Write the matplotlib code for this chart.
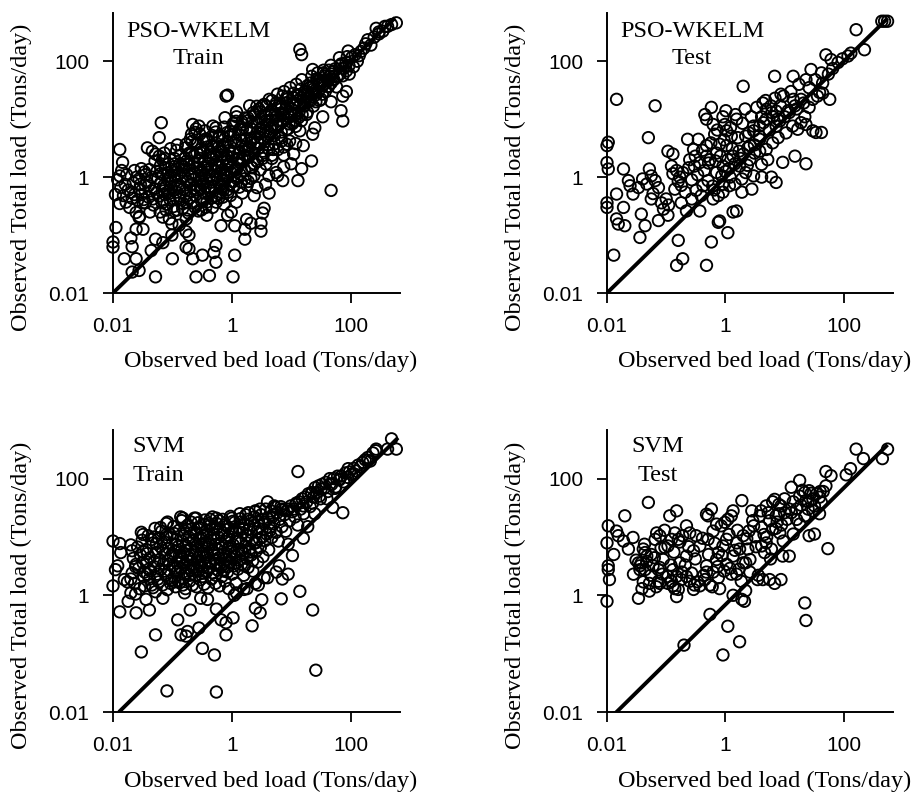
import matplotlib
matplotlib.use("Agg")
import matplotlib.pyplot as plt

# ---------------- data (Tons/day): (observed bed load, observed total load) ----------------
pso_train = [
(590,460),(490,430),(420,400),(270,370),(195,235),(130,100),(91,150),(65,115),(85,68),(112,80),
(74,56),(50,48),(42,37),(85,30),(74,25),(69,14),(74,9.3),(47,0.59),(47,20),(32,22),(26,32),(23,72),
(28,63),(14,160),(15,130),(35,63),(34,11),(25,7.1),(23,5.5),(22,1.9),(16,3.5),(15,1.4),(13,0.87),
(7.2,0.87),(5.6,1.2),(10,1.7),(11,2.5),(14,6.3),(7.2,25),(11,19),(6.9,17),(5.6,19),(3.3,17),(2.0,17),
(1.2,11),(0.8,25),(0.85,26),(0.22,8.1),(0.25,6.8),(0.28,7.6),(0.48,7.6),(0.54,7.1),(0.065,8.7),
(0.06,4.8),(0.038,3.2),(0.046,2.8),(0.052,2.5),(0.06,2.3),(0.068,2.0),(0.17,3.7),(0.21,5.5),(0.24,5.9),
(0.29,5.5),(0.37,4.6),(0.11,1.7),(0.013,3.0),(0.0145,1.8),(0.013,1.05),(0.0135,0.66),(0.013,0.35),
(0.0166,0.37),(0.02,0.55),(0.021,0.43),(0.023,1.3),(0.0275,0.93),(0.034,1.23),(0.035,0.72),(0.0245,0.245),
(0.0275,0.2),(0.032,0.126),(0.0112,0.135),(0.01,0.076),(0.01,0.062),(0.02,0.089),(0.021,0.063),
(0.0245,0.126),(0.0155,0.039),(0.0245,0.039),(0.021,0.023),(0.0275,0.0245),(0.052,0.019),(0.044,0.054),
(0.052,0.085),(0.069,0.074),(0.10,0.039),(0.17,0.062),(0.19,0.058),(0.22,0.039),(0.25,0.019),(0.32,0.045),
(0.42,0.02),(0.50,0.05),(0.54,0.066),(0.54,0.034),(1.05,0.019),(1.12,0.045),(0.66,0.145),(1.12,0.145),
(1.66,0.085),(1.66,0.126),(1.78,0.186),(2.1,0.16),(3.1,0.16),(3.1,0.117),(3.3,0.24),(3.5,0.29),(0.98,0.25),
(0.85,0.22),(0.38,0.22),(0.17,0.115),(0.19,0.10),(0.13,0.148),(0.098,0.10),(0.098,0.158),(0.062,0.25),
(0.069,0.204),(0.089,0.19),(0.107,0.26),(0.047,0.42),(0.054,0.54),(0.069,0.40),(0.083,0.55),(0.042,0.25),
(0.035,0.36),(0.032,0.36),(0.028,0.21),
(0.081,0.34),(0.077,0.66),(0.084,1.19),(0.074,2.1),(0.104,0.42),(0.096,0.83),(0.109,1.52),(0.093,1.04),
(0.121,0.27),(0.131,0.47),(0.119,1.08),(0.135,1.71),(0.118,2.9),(0.152,0.35),(0.167,0.59),(0.149,1.33),
(0.163,2.12),(0.171,0.19),(0.194,0.43),(0.207,0.75),(0.191,1.66),(0.214,2.6),(0.186,0.24),(0.241,0.3),
(0.262,0.6),(0.237,1.19),(0.268,1.9),(0.244,3.7),(0.305,0.27),(0.336,0.42),(0.31,0.94),(0.339,1.49),
(0.298,2.65),(0.344,4.3),(0.381,0.37),(0.423,0.67),(0.388,1.34),(0.427,2.1),(0.379,4.2),(0.474,0.3),
(0.532,0.47),(0.468,1.06),(0.527,1.69),(0.483,3.4),(0.538,6.0),(0.6,0.43),(0.667,0.74),(0.597,1.49),
(0.664,2.37),(0.612,4.8),(0.74,0.34),(0.835,0.6),(0.755,1.19),(0.846,1.88),(0.762,3.7),(0.844,5.9),
(0.77,10.6),(0.95,0.48),(1.06,0.84),(0.94,1.68),(1.07,2.65),(0.96,5.3),(1.06,8.4),(1.19,0.37),(1.34,0.67),
(1.2,1.34),(1.33,2.11),(1.19,4.25),(1.35,6.7),(1.2,13.4),(1.5,0.53),(1.68,0.94),(1.49,2.12),(1.69,3.3),
(1.51,6.7),(1.67,10.5),(1.89,0.84),(2.12,1.49),(1.88,2.98),(2.13,4.7),(1.9,9.5),(2.36,1.06),(2.66,1.88),
(2.37,3.7),(2.67,5.9),(2.38,11.9),(2.64,16.7),(3.02,1.34),(3.38,2.37),(3.01,4.8),(3.4,7.4),(3.05,13.4),
(3.77,1.68),(4.25,3.0),(3.76,5.95),(4.24,9.4),(3.8,16.8),(4.72,2.38),(5.3,3.77),(4.7,7.5),(5.3,11.9),
(4.75,21),(5.95,2.98),(6.7,4.7),(5.93,9.5),(6.7,14.9),(7.45,3.3),(8.4,6.7),(7.4,11.9),(8.4,18.8),(9.4,4.2),
(10.6,8.4),(9.4,13.3),(10.6,23.7),(11.9,7.5),(13.3,10.6),(11.8,18.8),(13.4,26.5),(14.9,9.4),(16.7,16.8),
(14.8,23.6),(18.8,13.3),(21.2,21),(18.7,30),(21.2,42),(23.6,16.8),(26.5,26.5),(23.5,37.5),(30,21),
(33.5,37.5),(30,47),(37.5,30),(42.3,47.5),(37.4,59),(47,42),(53,67),(59,53),(67,84),(75,75),(84,95),
(94,84),(106,118),(150,148),(168,168),(300,296),(380,400),
(2.1,0.95),(2.65,0.66),(4.2,1.06),(4.75,2.1),(7.5,2.4),(8.4,3.7),(7.5,1.5),(11.9,3.8),(5.9,1.06),
(4.25,0.53),(2.38,0.48),(3.7,0.75),(0.03,0.5),(0.04,0.71),(0.045,1.0),(0.05,0.63),(0.055,1.26),(0.063,0.79),
(0.035,1.1),(0.028,0.63),(0.04,0.45),(0.063,1.58),(0.07,1.1),(0.075,0.5),(0.2,4.5),(0.3,3.0),(0.35,6.3),
(0.45,3.5),(0.6,2.8),(0.7,5.0),(1.05,7.6),(1.5,9.0),
(0.033,0.41),(0.037,0.82),(0.041,1.35),(0.044,0.58),(0.048,0.33),(0.051,1.9),(0.057,0.95),(0.059,0.47),
(0.064,1.15),(0.067,0.36),(0.071,0.71),(0.073,2.6),(0.076,1.45),(0.078,0.27),(0.083,0.92),(0.086,1.7),
(0.088,0.52),(0.093,3.1),(0.095,0.68),(0.097,1.25),(0.104,0.31),(0.108,2.1),(0.112,0.86),(0.115,1.38),
(0.118,0.55),(0.121,3.6),(0.127,0.74),(0.131,1.15),(0.134,0.41),(0.137,2.4),(0.142,0.95),(0.145,1.6),
(0.149,0.29),(0.153,0.62),(0.163,1.05),(0.167,3.2),(0.171,0.47),(0.174,1.9),(0.178,0.83),(0.183,0.27),
(0.187,1.35),(0.193,2.6),(0.206,0.58),(0.211,1.12),(0.214,4.1),(0.219,0.36),(0.226,0.92),(0.231,1.75),
(0.236,2.3),(0.242,0.48),(0.257,0.71),(0.262,1.45),(0.268,3.8),(0.274,0.26),(0.283,1.05),(0.291,2.1),
(0.298,0.62),(0.305,1.3),(0.311,0.38),(0.327,0.76),(0.334,2.9),(0.341,1.1),(0.348,0.53),(0.356,1.85),
(0.364,0.3),(0.372,0.95),(0.384,3.3),(0.391,1.55),(0.412,0.61),(0.423,1.05),(0.431,2.7),(0.446,0.43),
(0.452,1.4),(0.467,0.82),(0.474,5.2),(0.486,2.05),(0.512,0.66),(0.524,1.25),(0.538,3.9),(0.547,0.37),
(0.556,2.3),(0.571,0.9),(0.584,1.6),(0.597,0.52),(0.611,5.1),(0.645,1.15),(0.662,2.8),(0.674,0.68),
(0.689,1.85),(0.705,0.45),(0.718,3.4),(0.734,1.05),(0.751,7.3),(0.768,0.88),(0.812,2.4),(0.826,1.35),
(0.845,4.1),(0.867,0.55),(0.883,1.7),(0.907,2.9),(0.924,0.75),(0.945,6.1),(0.962,1.2),(1.04,2.2),
(1.08,0.68),(1.11,3.9),(1.14,1.35),(1.18,9.2),(1.21,0.95),(1.32,2.6),(1.36,5.3),(1.41,1.75),(1.45,0.82),
(1.49,3.4),(1.53,8.1),(1.64,1.3),(1.69,2.9),(1.73,4.6),(1.81,0.72),(1.87,10.5),(1.93,2.2),(2.07,3.9),
(2.14,6.8),(2.21,1.45),(2.29,13),(2.36,2.6),(2.44,4.9),(2.63,8.6),(2.71,1.85),(2.78,3.1),(2.86,15),
(2.93,5.6),(3.07,10.2),(3.35,2.8),(3.42,6.3),(3.51,18),(3.63,4.1),(3.74,12),(3.86,8.2),(4.17,3.6),
(4.28,22),(4.41,6.9),(4.56,14),(4.73,9.7),(5.21,5.2),(5.43,17),(5.62,11),(5.87,27),(6.05,7.6),(6.54,19),
(6.71,12.5),(6.92,4.2),(7.35,9.1),(7.61,30),(8.12,15),(8.43,24),(8.86,6.8),(9.23,11),(9.61,35),(10.5,18),
(10.9,28),(11.6,9.5),(12.2,40),(12.9,21),(13.5,13),(14.6,33),(15.1,48),(16.4,19),(17.2,27),(18.1,12),
(18.9,38),(21.3,24),(22.2,55),(23.4,33),(26.1,20),(27.5,45),(28.8,30),(33.5,27),(35.1,70),(36.8,41),
(42.3,36),(44.1,55),(46.7,85),(52.4,48),(54.9,74),(58.1,36),(66.4,60),(69.8,90),(82.5,80),(88.2,120),
(95,60),(120,130),(140,125),(180,200),(220,190),(250,260),(300,320),(350,330),
(0.011,0.5),(0.012,0.9),(0.014,1.3),(0.015,0.48),(0.016,0.75),(0.017,1.1),(0.018,0.6),(0.019,0.3),
(0.022,0.8),(0.023,0.5),(0.025,1.0),(0.026,0.4),(0.029,0.75),(0.03,1.4),
(0.072,0.58),(0.091,0.41),(0.11,1.05),(0.13,0.66),(0.155,1.5),(0.175,0.37),(0.2,1.02),(0.23,0.64),
(0.26,2.6),(0.29,0.85),(0.32,1.2),(0.36,0.68),(0.4,1.7),(0.44,0.58),(0.49,2.5),(0.55,1.05),(0.6,3.3),
(0.66,1.3),(0.72,0.6),(0.78,2.1),(0.86,1.02),(0.94,3.4),(1.02,1.5),(1.12,5.6),(1.24,2.0),(1.37,1.12),
(1.5,4.2),(1.65,2.4),(1.8,6.5),(2.0,3.3),(2.2,8.9),(2.4,1.7),(2.7,4.0),(3.0,6.8),(3.3,2.1),(3.7,9.5),
(4.1,5.0),(4.6,12),(5.0,3.0),(5.6,8.1),(6.2,16),(6.8,6.0),(7.5,12.5),(8.3,22),(9.2,8.3),(10.2,15),
(11.3,11.5),(12.5,26),(13.8,17),(15.3,12),(17,30),(19,20),(21,35),(24,28),(27,50),(30,38),(34,45),
(38,55),(43,70),(48,60),
]

pso_test = [
(490,490),(550,490),(440,490),(162,350),(224,158),(118,123),(132,138),(50,129),(61,107),(28,72),
(42,63),(14,55),(23,48),(6.8,55),(2.0,37),(44,42),(39,29),(44,28),(58,22),(30,22),(26,16),(19,22),
(14,22),(8.7,27),(16,15),(22,11),(23,8.1),(19,8.7),(30,6.3),(34,5.9),(42,5.9),(23,1.7),(15,2.3),
(9.3,1.8),(7.2,0.81),(6.0,1.0),(4.1,1.0),(2.8,0.62),(3.0,1.05),(1.9,0.55),(1.55,0.26),(1.35,0.25),
(1.1,0.11),(0.76,0.166),(0.8,0.175),(0.58,0.076),(0.48,0.03),(0.19,0.039),(0.15,0.03),(0.16,0.081),
(0.036,0.091),(0.044,0.145),(0.038,0.23),(0.074,0.178),(0.013,0.045),(0.0145,0.19),(0.0155,0.155),
(0.02,0.145),(0.019,0.30),(0.01,0.36),(0.01,0.30),(0.0145,0.51),(0.0275,0.51),(0.0245,0.71),(0.034,0.66),
(0.04,0.93),(0.047,0.76),(0.052,1.38),(0.056,1.05),(0.065,0.87),(0.074,0.66),(0.056,0.42),(0.06,0.52),
(0.083,0.36),(0.1,0.42),(0.09,0.28),(0.107,0.22),(0.11,0.33),(0.023,0.87),(0.019,1.38),(0.01,3.5),
(0.0105,4.0),(0.01,1.78),(0.0105,1.38),(0.0145,22),(0.065,17),(0.05,4.8),(0.107,2.8),(0.13,2.5),
(0.123,1.55),(0.15,1.3),(0.13,1.15),(0.17,1.0),(0.18,0.72),
(0.23,4.5),(0.29,3.0),(0.25,2.0),(0.30,1.55),(0.37,1.78),(0.48,2.3),(0.48,3.5),(0.35,4.5),(0.45,12),
(0.58,16),(0.48,10),(0.62,8.1),(0.66,5.5),(0.91,11),(0.98,8.1),(1.05,6.3),(1.55,10),(1.26,5.1),
(1.05,3.5),(0.8,3.7),(0.71,2.6),(0.55,2.0),(0.91,1.55),(0.71,1.2),(0.51,0.87),(0.42,0.71),(0.32,0.59),
(0.27,0.42),(0.37,0.26),(0.22,0.26),(0.18,0.36),(0.62,0.42),(0.76,0.48),(0.91,0.55),(1.17,0.71),
(1.45,0.76),(1.9,0.93),(2.2,1.2),(1.74,1.55),(1.35,2.3),(2.0,2.5),(2.6,3.5),(2.2,5.1),(3.0,6.3),
(3.8,7.6),(3.0,7.6),(4.1,11),(4.9,14.8),(5.9,17),(7.2,13.8),(6.3,11),(4.9,10),(7.2,7.6),(8.3,9.3),
(10,11),(12,13),(15,17),(3.8,4.5),(4.9,3.0),(6.3,3.9),(7.8,4.8),(5.2,2.0),(4.1,1.66),(10.6,5.8),
(13.7,7.6),(16.7,6.7),(3.1,2.6),(2.6,2.0),(3.8,2.8),(4.3,19),(1.2,1.0),(1.45,1.7),(1.0,1.25),(1.7,2.8),
(2.4,3.2),(0.9,0.75),(0.65,0.6),(1.1,2.0),
(0.14,0.62),(0.16,0.85),(0.19,1.2),(0.21,0.55),(0.24,1.45),(0.27,0.9),(0.31,2.3),(0.34,1.1),(0.39,0.48),
(0.41,2.9),(0.44,1.3),(0.52,1.75),(0.57,3.9),(0.61,0.7),(0.68,1.9),(0.73,6.5),(0.82,2.3),(0.87,1.05),
(0.95,4.4),(1.02,14),(1.15,1.4),(1.22,7.2),(1.31,3.1),(1.48,12),(1.62,4.8),(1.81,2.1),(1.95,8.5),
(2.15,15),(2.35,1.6),(2.5,5.8),(2.75,11),(3.1,3.6),(3.4,16),(3.7,5.2),(4.4,8.7),(4.8,21),(5.5,6.5),
(6.1,13),(6.9,23),(7.6,10),(8.5,17),(9.6,25),(11.5,14),(12.8,30),(17.5,40),(21,19),(26,35),(33,48),
(36,25),(55,60),(65,75),(80,95),(95,110),
]

svm_train = [
(490,480),(590,320),(420,320),(270,320),(195,205),(91,148),(115,120),(65,98),(45,81),(55,68),(32,66),
(74,26),(50,32),(40,45),(30,50),(22,55),(13,132),(12,36),(16,34),(23,38),(25,25),(19,15),(16,9.5),
(14,1.17),(23,0.56),(26,0.052),(6.8,0.87),(8.9,2.3),(10.5,4.8),(8.9,7.5),(5.2,34),(6.9,30),(2.5,28),
(1.9,26),(3.0,0.5),(3.2,0.84),(2.5,0.6),(2.2,0.30),(1.05,0.41),(0.8,0.34),(0.8,0.21),(0.66,0.38),
(0.55,0.58),(0.51,0.095),(0.32,0.123),(0.55,0.022),(0.081,0.023),(0.03,0.107),(0.052,0.21),(0.14,0.21),
(0.17,0.20),(0.18,0.24),(0.123,0.38),(0.2,0.56),(0.28,0.275),(0.3,0.89),(0.39,0.85),(0.16,1.1),(0.15,1.5),
(0.11,1.7),(0.069,0.89),(0.052,1.15),(0.036,0.85),(0.041,0.56),(0.0245,0.50),(0.018,0.79),(0.013,0.52),
(0.01,1.45),(0.011,2.75),(0.012,3.2),(0.01,8.5),(0.013,7.7),(0.0135,5.4),(0.0155,1.86),(0.0175,1.7),
(0.02,1.9),(0.02,1.1),(0.024,1.05),(0.02,7.3),(0.021,5.8),(0.03,12),(0.032,11),(0.0245,3.4),(0.032,3.6),
(0.034,2.5),(0.04,2.8),(0.038,5.2),(0.045,1.5),(0.05,10),(0.054,7.7),(0.083,18),(0.08,11),(0.15,21),
(0.25,21),(0.42,17),(0.55,21),(1.0,21),(1.4,18),
(0.021,2.4),(0.022,4.3),(0.023,1.6),(0.026,6.7),(0.027,2.9),(0.028,1.3),(0.029,4.9),(0.031,8.8),
(0.033,2.1),(0.034,1.45),(0.036,6.1),(0.037,3.7),(0.039,10.5),(0.041,1.9),(0.042,4.4),(0.043,2.6),
(0.046,7.8),(0.047,1.35),(0.049,3.1),(0.051,14),(0.053,5.4),(0.055,2.3),(0.058,9.6),(0.059,1.7),
(0.061,4.1),(0.062,6.9),(0.064,2.8),(0.066,12.5),(0.068,1.5),(0.071,3.5),(0.073,8.2),(0.075,5.1),
(0.077,2.2),(0.079,17),(0.082,1.25),(0.084,3.9),(0.086,6.4),(0.088,2.7),(0.092,11),(0.094,4.6),
(0.096,1.8),(0.099,7.5),(0.102,3.2),(0.105,15),(0.107,2.05),(0.109,5.6),(0.113,1.4),(0.116,9.1),
(0.119,3.6),(0.122,2.5),(0.125,6.8),(0.129,13),(0.132,1.65),(0.135,4.3),(0.139,2.9),(0.143,19),
(0.146,8.4),(0.151,1.95),(0.155,5.2),(0.159,3.3),(0.163,11.5),(0.166,1.3),(0.17,7.1),(0.174,2.4),
(0.178,4.8),(0.182,16),(0.187,3.0),(0.191,9.8),(0.195,1.75),(0.199,6.0),(0.204,2.7),(0.209,13.5),
(0.213,4.2),(0.217,1.5),(0.225,8.6),(0.229,3.4),(0.234,21),(0.238,5.5),(0.243,2.2),(0.249,11),
(0.254,1.4),(0.259,6.9),(0.265,3.8),(0.27,17.5),(0.276,2.6),(0.282,9.3),(0.289,4.6),(0.295,1.85),
(0.301,14),(0.308,7.2),(0.314,3.1),(0.321,2.1),(0.329,10.5),(0.336,5.3),(0.343,1.55),(0.351,19.5),
(0.358,3.6),(0.366,8.0),(0.374,2.5),(0.382,12.8),(0.39,4.9),(0.398,1.35),(0.407,6.6),(0.416,2.9),
(0.425,15.5),(0.434,3.9),(0.444,9.4),(0.454,1.9),(0.464,5.8),(0.474,22),(0.485,2.4),(0.496,11.2),
(0.507,4.1),(0.519,7.4),(0.531,1.6),(0.543,3.3),(0.555,17),(0.568,6.1),(0.581,2.7),(0.594,9.9),
(0.608,4.4),(0.622,1.45),(0.637,13.2),(0.652,3.0),(0.667,7.7),(0.683,2.1),(0.699,20),(0.716,5.0),
(0.733,11.6),(0.75,3.5),(0.768,1.75),(0.787,8.3),(0.806,4.7),(0.825,15.3),(0.845,2.5),(0.866,6.4),
(0.887,1.3),(0.909,10.2),(0.931,3.7),(0.954,22.5),(0.977,5.6),(1.01,2.3),(1.03,12.4),(1.06,7.3),
(1.09,3.2),(1.12,17.8),(1.15,4.6),(1.18,1.6),(1.21,9.2),(1.24,6.1),(1.27,2.8),(1.31,14.5),(1.35,4.0),
(1.39,20.5),(1.42,8.0),(1.46,3.4),(1.5,11.8),(1.55,5.4),(1.59,2.2),(1.63,16.2),(1.68,7.0),(1.73,24),
(1.78,4.3),(1.83,10.4),(1.88,3.0),(1.94,13.6),(2.0,6.3),(2.06,19),(2.12,4.9),(2.19,9.0),(2.26,2.6),
(2.33,15.8),(2.4,7.8),(2.48,27),(2.56,5.7),(2.64,12.2),(2.73,3.7),(2.82,18.5),(2.92,9.3),(3.02,6.6),
(3.13,24),(3.24,13.5),(3.35,4.6),(3.47,16.8),(3.6,8.6),(3.73,30),(3.87,11.2),(4.02,20.5),(4.18,6.0),
(4.35,14.6),(4.52,28),(4.71,9.8),(4.91,24),(5.12,17),(5.35,32),(5.59,12),(5.84,26),(6.1,8.5),(6.4,20),
(6.7,33),(7.0,15),(7.35,29),(7.7,24),(8.1,12.5),(8.5,28),(8.95,30),(9.4,19),(9.9,34),(10.4,27),
(11,30),(11.6,22),(12.2,38),(12.9,16),(13.6,40),(14.4,30),(15.3,45),(16.2,25),(17.2,48),(18.3,40),
(19.5,55),(20.8,33),(22.2,58),(23.7,48),(25.3,70),(27,58),(29,75),(31,45),(33.3,80),(35.8,68),
(38.5,86),(41.5,60),(44.7,100),(48.2,80),(52,100),(56,72),(60.5,110),(65,95),(70,110),(76,88),
(82,125),(89,105),(96,130),(104,118),(113,150),(123,135),(134,170),(146,160),(160,190),(176,210),
(195,230),(215,200),(238,275),(265,300),
(4.0,2.0),(5.6,2.5),(7.1,1.9),(6.3,3.2),(3.5,2.0),(2.5,1.6),(1.6,1.26),(1.1,1.0),(1.2,1.1),(1.8,1.3),
(2.8,1.5),
(0.024,3.1),(0.032,5.6),(0.038,2.3),(0.044,9.0),(0.05,3.8),(0.057,1.9),(0.063,14.5),(0.069,5.9),
(0.074,2.6),(0.081,9.8),(0.087,3.4),(0.093,1.6),(0.1,5.2),(0.106,11.5),(0.112,2.9),(0.118,7.4),
(0.124,1.75),(0.131,4.8),(0.138,22),(0.144,3.7),(0.152,10.4),(0.158,2.3),(0.165,5.9),(0.172,13.6),
(0.18,3.9),(0.188,7.9),(0.196,2.2),(0.205,18),(0.215,5.0),(0.224,3.0),(0.232,12.2),(0.245,7.6),
(0.256,2.7),(0.267,4.4),(0.279,14.8),(0.292,3.3),(0.305,9.6),(0.318,5.9),(0.332,2.4),(0.347,16.4),
(0.362,4.5),(0.378,11.2),(0.395,2.9),(0.413,7.3),(0.431,20),(0.45,3.6),(0.47,13.4),(0.49,5.3),
(0.512,9.0),(0.535,2.2),(0.559,14.2),(0.584,5.0),(0.61,19),(0.637,3.5),(0.666,10.8),(0.696,6.6),
(0.727,2.6),(0.76,16),(0.794,4.1),(0.83,9.4),(0.867,3.1),(0.906,13.8),(0.947,7.0),(0.99,4.3),
(1.04,18.5),(1.1,5.3),(1.16,13),(1.22,3.6),(1.29,8.5),(1.37,25),(1.45,5.8),(1.54,14),(1.64,3.2),
(1.75,9.0),(1.86,20),(1.98,5.5),(2.1,12),(2.25,3.9),(2.4,22),(2.6,8),(2.8,14),(3.0,30),(3.3,10),
(3.6,18),(4.0,40),(4.4,13),(4.8,22),
]

svm_test = [
(550,320),(450,220),(162,320),(215,220),(130,148),(110,116),(50,132),(61,112),(54,6.3),(26,62),(18,93),
(13,71),(23,42),(30,45),(39,48),(42,39),(39,25),(32,34),(25,30),(22,23),(16,30),(13,26),(18,16.6),
(14,11.2),(26,10.5),(32,11.2),(12,4.7),(9.3,4.7),(8.7,1.86),(6.8,1.6),(5.6,1.86),(22,0.74),(23,0.37),
(8.7,34),(10,26),(7.2,23),(4.9,34),(5.6,19),(3.8,23),(4.1,14.5),(6.3,13.5),(8.3,11.7),(4.9,7.9),
(6.0,6.2),(4.6,5.4),(4.1,7.0),(3.5,1.86),(4.3,1.86),(2.6,2.5),(2.2,3.6),(2.0,10.5),(3.0,15.5),(2.8,28),
(1.9,42),(1.35,28),(1.26,23),(1.1,20),(0.98,17.8),(0.85,15.5),(1.05,9.1),(0.91,7.0),(0.76,5.4),
(0.71,4.1),(1.05,3.4),(1.35,4.7),(1.74,6.2),(1.55,7.9),(2.4,6.2),(2.0,3.6),(1.55,2.3),(1.86,1.74),
(1.26,2.3),(2.2,1.2),(1.9,0.85),(1.35,1.0),(2.1,0.79),(0.55,0.47),(1.1,0.295),(1.74,0.16),(0.91,0.095),
(0.2,0.14),(0.76,2.0),(0.62,2.5),(0.48,3.2),(0.48,2.5),(0.55,1.5),(0.45,1.86),(0.37,1.45),(0.29,1.26),
(0.30,1.5),(0.25,1.74),(0.22,2.1),(0.18,1.86),(0.15,2.1),(0.13,2.75),(0.17,3.6),(0.22,4.7),(0.29,5.8),
(0.37,7.0),(0.51,9.1),(0.62,12.6),(0.71,16.6),(0.51,23),(0.58,30),(0.48,24.5),(0.32,10.5),(0.25,11.7),
(0.19,10.5),(0.16,9.1),(0.14,11.7),(0.123,9.1),(0.107,7.0),(0.095,6.6),(0.078,10.5),(0.069,11.7),
(0.22,15.5),(0.15,28),(0.115,23),(0.05,39),(0.089,4.1),(0.078,3.0),(0.107,2.1),(0.107,1.6),(0.13,1.45),
(0.15,0.95),(0.16,1.26),(0.123,1.74),(0.078,1.6),(0.074,2.75),(0.06,3.2),(0.047,4.7),(0.041,6.2),
(0.044,5.4),(0.038,3.6),(0.036,3.2),(0.047,3.8),(0.056,5.0),(0.065,9.1),(0.036,2.75),(0.034,3.6),
(0.044,2.75),(0.041,1.7),(0.052,1.6),(0.052,1.18),(0.034,0.89),(0.074,1.74),(0.0275,9.8),(0.023,6.2),
(0.019,8.5),(0.02,23),(0.0155,10.5),(0.0145,12.6),(0.013,5.0),(0.0105,15.5),(0.01,7.9),(0.0105,3.2),
(0.0105,2.75),(0.011,1.86),(0.01,0.79),
(3.2,10),(2.5,12.6),(5.0,10),(7.1,14),(8.9,16),(11,20),(4.0,28),(6.3,40),(10,45),(14,40),(18,50),
(22,58),(20,63),(28,56),(8,25),(35,55),(45,60),(6.8,44),(8,36),
(0.028,2.3),(0.031,4.0),(0.039,1.3),(0.043,7.5),(0.055,2.2),(0.063,4.4),(0.068,1.4),(0.082,6.5),
(0.086,2.3),(0.094,13),(0.12,3.3),(0.135,5.5),(0.14,1.3),(0.17,8.2),(0.185,2.5),(0.21,3.3),(0.24,6.8),
(0.27,2.4),(0.31,4.2),(0.34,1.7),(0.41,9.5),(0.43,2.2),(0.52,5.0),(0.6,1.4),(0.66,7.8),(0.74,3.1),
(0.8,1.3),(0.88,4.8),(0.95,2.6),(1.15,11),(1.2,2.9),(1.45,5.9),(1.6,13),(1.7,2.8),(2.3,9.3),(2.6,4.1),
(2.9,19),(3.3,6.8),(3.6,2.2),(4.5,11),(5.3,26),(5.8,4.2),(7.5,18),(9.5,8.5),(12,30),(16,20),(19,35),
(25,40),(30,28),(40,60),(50,75),
]

panels = [
    ("PSO-WKELM", "Train", pso_train),
    ("PSO-WKELM", "Test", pso_test),
    ("SVM", "Train", svm_train),
    ("SVM", "Test", svm_test),
]
# reference line per panel: (start bed load, end bed load, total/bed ratio)
ref_lines = [(0.01, 560, 1.0), (0.01, 550, 1.0), (0.0126, 630, 1 / 1.26), (0.0137, 550, 1 / 1.45)]
axis_min, axis_max = 0.01, 680
tick_vals = [0.01, 1, 100]
tick_labels = ["0.01", "1", "100"]

# ---------------- figure ----------------
W, H = 917, 792
fig = plt.figure(figsize=(W / 100, H / 100), dpi=100)

def box(l, t, r, b):
    return [l / W, 1 - b / H, (r - l) / W, (b - t) / H]

rects = [box(113, 13, 400, 293), box(607, 13, 893, 293),
         box(113, 430, 400, 712), box(607, 430, 893, 712)]

serif = "Liberation Serif"
sans = "Liberation Sans"

for i, (model, phase, pts) in enumerate(panels):
    ax = fig.add_axes(rects[i])
    xs = [p[0] for p in pts]
    ys = [p[1] for p in pts]
    ax.scatter(xs, ys, s=68, facecolors="none", edgecolors="black",
               linewidths=1.35, clip_on=False, zorder=2)
    x0, x1, k = ref_lines[i]
    ax.plot([x0, x1], [x0 * k, x1 * k], color="black", lw=2.8,
            solid_capstyle="butt", zorder=3)
    ax.set_xscale("log")
    ax.set_yscale("log")
    ax.set_xlim(axis_min, axis_max)
    ax.set_ylim(axis_min, axis_max)
    ax.set_xticks(tick_vals)
    ax.set_xticklabels(tick_labels)
    ax.set_yticks(tick_vals)
    ax.set_yticklabels(tick_labels)
    ax.minorticks_off()
    for s in ["top", "right"]:
        ax.spines[s].set_visible(False)
    for s in ["left", "bottom"]:
        ax.spines[s].set_linewidth(1.4)
    ax.tick_params(which="major", direction="out", length=7, width=1.3,
                   labelsize=15, pad=10)
    for lab in ax.get_xticklabels() + ax.get_yticklabels():
        lab.set_fontfamily(sans)
    ax.set_facecolor("none")

    ax.text(0.55, -0.245, "Observed bed load (Tons/day)", transform=ax.transAxes,
            ha="center", va="center", fontsize=17.5, family=serif)
    ax.text(-0.32, 0.413, "Observed Total load (Tons/day)", transform=ax.transAxes,
            ha="center", va="center", rotation=90, fontsize=17.5, family=serif)

    if i < 2:
        ax.text(0.297, 0.935, model, transform=ax.transAxes, ha="center", va="center",
                fontsize=17.5, family=serif)
        ax.text(0.297, 0.838, phase, transform=ax.transAxes, ha="center", va="center",
                fontsize=17.5, family=serif)
    elif i == 2:
        ax.text(0.067, 0.94, model, transform=ax.transAxes, ha="left", va="center",
                fontsize=17.5, family=serif)
        ax.text(0.067, 0.84, phase, transform=ax.transAxes, ha="left", va="center",
                fontsize=17.5, family=serif)
    else:
        ax.text(0.178, 0.94, model, transform=ax.transAxes, ha="center", va="center",
                fontsize=17.5, family=serif)
        ax.text(0.178, 0.84, phase, transform=ax.transAxes, ha="center", va="center",
                fontsize=17.5, family=serif)

fig.savefig("out.png", dpi=100, facecolor="white")
